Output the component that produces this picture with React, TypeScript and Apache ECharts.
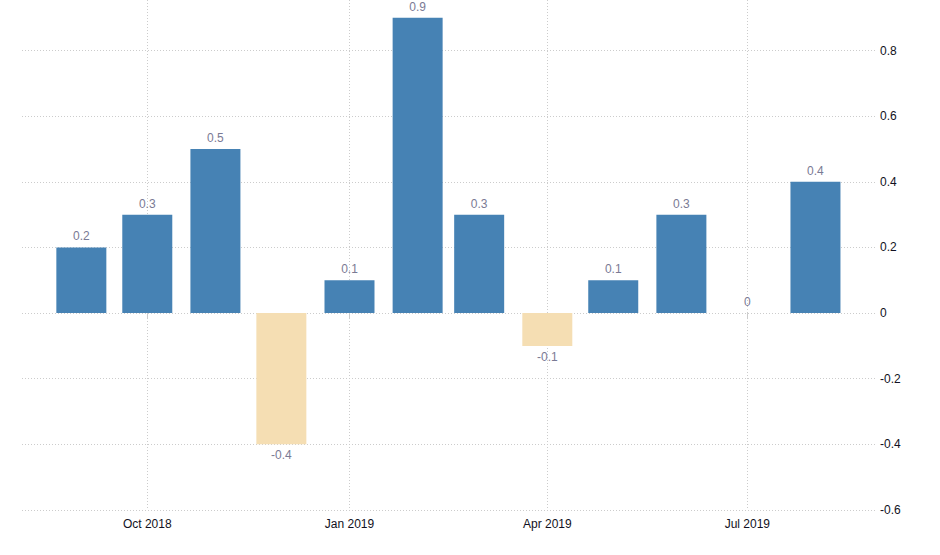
import React, { useEffect, useRef } from "react";
import * as echarts from "echarts";

// Months (year, monthIndex) of each bar
const barMonths: [number, number][] = [
  [2018, 8], [2018, 9], [2018, 10], [2018, 11],
  [2019, 0], [2019, 1], [2019, 2], [2019, 3],
  [2019, 4], [2019, 5], [2019, 6], [2019, 7],
];
const values = [0.2, 0.3, 0.5, -0.4, 0.1, 0.9, 0.3, -0.1, 0.1, 0.3, 0, 0.4];

const tickMonths: [number, number][] = [[2018, 9], [2019, 0], [2019, 3], [2019, 6]];
const tickLabels = ["Oct 2018", "Jan 2019", "Apr 2019", "Jul 2019"];

const xMin: [number, number, number] = [2018, 7, 5];
const xMax: [number, number, number] = [2019, 7, 29];
const yMin = -0.6;
const yMax = 0.954;

const POS = "#4682B4";
const NEG = "#F5DEB3";

const dayNum = (y: number, m: number, d: number) => Date.UTC(y, m, d) / 86400000;

export default function App() {
  const ref = useRef<HTMLDivElement>(null);
  useEffect(() => {
    document.body.style.margin = "0";
    if (!ref.current) return;
    const chart = echarts.init(ref.current, null, { renderer: "svg" });
    const tickDays = tickMonths.map(([y, m]) => dayNum(y, m, 1));
    const labelMap: Record<number, string> = {};
    tickDays.forEach((t, i) => (labelMap[t] = tickLabels[i]));
    const data = barMonths.map(([y, m], i) => ({
      value: [dayNum(y, m, 1), values[i]],
      itemStyle: { color: values[i] < 0 ? NEG : POS },
      label: { position: values[i] < 0 ? "bottom" : "top" },
    }));
    const font = "Liberation Sans, Arial, sans-serif";
    chart.setOption({
      animation: false,
      textStyle: { fontFamily: font },
      grid: { left: 22, right: 63, top: 0, bottom: 45, containLabel: false },
      xAxis: {
        type: "value",
        min: dayNum(xMin[0], xMin[1], xMin[2]),
        max: dayNum(xMax[0], xMax[1], xMax[2]),
        axisLine: { show: false },
        axisTick: {
          show: true,
          customValues: tickDays,
          length: 6,
          lineStyle: { color: "#cccccc", width: 1 },
        },
        axisLabel: {
          customValues: tickDays,
          showMinLabel: true,
          showMaxLabel: true,
          formatter: (v: number) => labelMap[v] ?? "",
          color: "#111122",
          fontSize: 12,
          fontFamily: font,
          margin: 8,
        },
        splitLine: {
          show: true,
          lineStyle: { color: "#cccccc", type: [1, 2], width: 1 },
        },
      },
      yAxis: {
        type: "value",
        position: "right",
        min: yMin,
        max: yMax,
        interval: 0.2,
        axisLine: { show: false },
        axisTick: { show: false },
        axisLabel: {
          color: "#111122",
          fontSize: 12,
          fontFamily: font,
          margin: 3,
          showMaxLabel: false,
          formatter: (v: number) => String(Math.round(v * 10) / 10),
        },
        splitLine: {
          show: true,
          showMaxLine: false,
          lineStyle: { color: "#cccccc", type: [1, 2], width: 1 },
        },
      },
      series: [
        {
          type: "bar",
          barWidth: 50,
          data,
          label: {
            show: true,
            color: "#7a7a94",
            fontSize: 12,
            fontFamily: font,
            distance: 5,
            formatter: (p: any) => String(p.value[1]),
          },
        },
      ],
    });
    return () => chart.dispose();
  }, []);
  return (
    <div
      ref={ref}
      style={{ position: "absolute", left: 0, top: 0, width: 940, height: 555 }}
    />
  );
}
